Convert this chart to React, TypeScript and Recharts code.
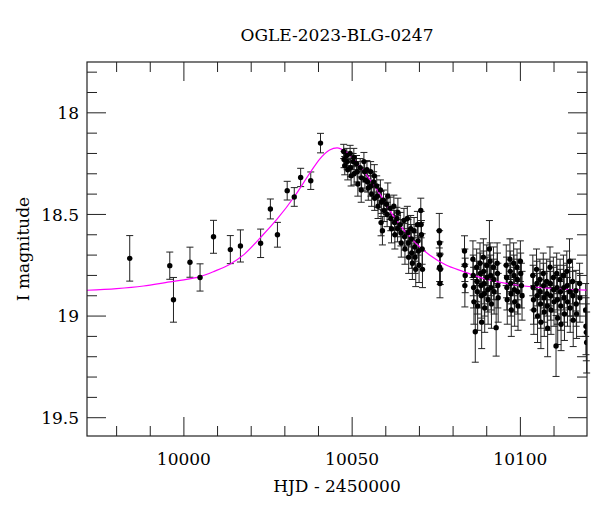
import React from "react";
import { ComposedChart, Scatter, Line, XAxis, YAxis, ErrorBar } from "recharts";

// OGLE-2023-BLG-0247 light curve: photometry with error bars + magenta model.
// Plot frame (px) and fonts.
const LEFT = 87;
const RIGHT = 587;
const TOP = 62;
const BOTTOM = 436;
const FONT = '"DejaVu Serif", "Liberation Serif", serif';
const FS = 17;

const X_DOMAIN: [number, number] = [9971.2, 10119.8];
const Y_DOMAIN: [number, number] = [17.75, 19.59];

const xTicks = [9980, 9990, 10000, 10010, 10020, 10030, 10040, 10050, 10060, 10070, 10080, 10090, 10100, 10110];
const xLabels = [10000, 10050, 10100];
const yTicks = [17.8, 17.9, 18, 18.1, 18.2, 18.3, 18.4, 18.5, 18.6, 18.7, 18.8, 18.9, 19, 19.1, 19.2, 19.3, 19.4, 19.5];
const yLabels = [18, 18.5, 19, 19.5];

// [HJD - 2450000, I mag, error]
const risePoints: [number, number, number][] = [
  [9983.9, 18.716, 0.112], [9995.8, 18.752, 0.067], [9996.9, 18.92, 0.11],
  [10001.8, 18.735, 0.074], [10004.8, 18.81, 0.067], [10008.8, 18.61, 0.081],
  [10013.8, 18.673, 0.069], [10016.8, 18.655, 0.079], [10022.8, 18.642, 0.07],
  [10025.7, 18.473, 0.049], [10027.8, 18.6, 0.061], [10030.7, 18.383, 0.046],
  [10032.8, 18.414, 0.046], [10034.7, 18.318, 0.045], [10037.7, 18.334, 0.043],
  [10040.6, 18.149, 0.048],
];

const declinePoints: [number, number, number][] = [
  [10047.5, 18.19, 0.035], [10047.6, 18.23, 0.04], [10047.8, 18.26, 0.045],
  [10048.4, 18.21, 0.035], [10048.5, 18.24, 0.04], [10048.7, 18.28, 0.05],
  [10049.4, 18.2, 0.04], [10049.5, 18.27, 0.045], [10049.7, 18.31, 0.05],
  [10050.3, 18.24, 0.04], [10050.5, 18.22, 0.045], [10050.6, 18.3, 0.055],
  [10051.3, 18.25, 0.04], [10051.5, 18.29, 0.05], [10051.7, 18.35, 0.06],
  [10052.4, 18.27, 0.045], [10052.7, 18.38, 0.06], [10052.8, 18.32, 0.05],
  [10053.5, 18.24, 0.045], [10053.7, 18.29, 0.05], [10053.8, 18.33, 0.055],
  [10054.4, 18.28, 0.045], [10054.6, 18.34, 0.05], [10054.8, 18.37, 0.06],
  [10055.5, 18.29, 0.05], [10055.6, 18.36, 0.05], [10055.8, 18.4, 0.06],
  [10056.4, 18.34, 0.05], [10056.6, 18.31, 0.055], [10056.7, 18.42, 0.06],
  [10057.3, 18.36, 0.05], [10057.5, 18.41, 0.055], [10057.7, 18.46, 0.06],
  [10058.4, 18.38, 0.05], [10058.6, 18.54, 0.065], [10058.7, 18.44, 0.055],
  [10059.0, 18.58, 0.07], [10059.3, 18.43, 0.05], [10059.5, 18.48, 0.055],
  [10060.2, 18.45, 0.05], [10060.4, 18.5, 0.06], [10060.6, 18.41, 0.065],
  [10061.3, 18.47, 0.055], [10061.5, 18.52, 0.06], [10061.7, 18.57, 0.07],
  [10062.4, 18.46, 0.055], [10062.6, 18.54, 0.06], [10062.7, 18.6, 0.07],
  [10063.3, 18.52, 0.055], [10063.5, 18.57, 0.065], [10063.6, 18.49, 0.07],
  [10064.3, 18.55, 0.06], [10064.5, 18.59, 0.065], [10064.6, 18.64, 0.07],
  [10065.4, 18.53, 0.06], [10065.6, 18.61, 0.065], [10065.7, 18.67, 0.075],
  [10066.4, 18.52, 0.06], [10066.6, 18.59, 0.065], [10066.7, 18.64, 0.07], [10066.8, 18.71, 0.08],
  [10067.4, 18.57, 0.065], [10067.6, 18.62, 0.07], [10067.7, 18.69, 0.075], [10067.9, 18.74, 0.08],
  [10068.4, 18.58, 0.065], [10068.6, 18.66, 0.07], [10068.7, 18.71, 0.08], [10068.9, 18.77, 0.085],
  [10069.4, 18.55, 0.065], [10069.6, 18.63, 0.07], [10069.7, 18.68, 0.075], [10069.9, 18.75, 0.085],
  [10070.4, 18.48, 0.06], [10070.5, 18.55, 0.065], [10070.6, 18.6, 0.07], [10070.8, 18.67, 0.075],
  [10070.9, 18.77, 0.09],
];

const tailPoints: [number, number, number][] = [
  [10075.9, 18.58, 0.085], [10076.0, 18.64, 0.06], [10076.1, 18.7, 0.065],
  [10076.0, 18.76, 0.07], [10076.2, 18.77, 0.075], [10076.1, 18.84, 0.07],
  [10083.4, 18.68, 0.075], [10083.5, 18.75, 0.08], [10083.6, 18.8, 0.085], [10083.5, 18.85, 0.105],
  [10085.9, 18.72, 0.09], [10086.0, 18.8, 0.1], [10086.1, 18.86, 0.1], [10086.2, 18.93, 0.11], [10086.6, 19.077, 0.15],
  [10087.0, 18.76, 0.09], [10087.1, 18.83, 0.1], [10087.2, 18.88, 0.11], [10087.3, 18.95, 0.12],
  [10088.0, 18.74, 0.1], [10088.1, 18.79, 0.1], [10088.3, 18.85, 0.11], [10088.4, 18.9, 0.11], [10088.5, 19.03, 0.13],
  [10089.0, 18.71, 0.09], [10089.1, 18.78, 0.1], [10089.2, 18.84, 0.1], [10089.3, 18.89, 0.11], [10089.4, 18.96, 0.12],
  [10090.0, 18.75, 0.1], [10090.1, 18.81, 0.1], [10090.3, 18.87, 0.11], [10090.4, 18.92, 0.12], [10090.8, 18.67, 0.14],
  [10091.0, 18.73, 0.09], [10091.2, 18.8, 0.1], [10091.3, 18.86, 0.11], [10091.4, 18.94, 0.12],
  [10092.0, 18.76, 0.1], [10092.1, 18.82, 0.1], [10092.2, 18.88, 0.11], [10092.8, 19.057, 0.14],
  [10093.1, 18.74, 0.1], [10093.2, 18.79, 0.1], [10093.3, 18.85, 0.11], [10093.4, 18.91, 0.12],
  [10095.8, 18.75, 0.1], [10095.9, 18.81, 0.1], [10096.0, 18.86, 0.11], [10096.1, 18.92, 0.12],
  [10096.9, 18.72, 0.1], [10097.0, 18.78, 0.1], [10097.1, 18.84, 0.1], [10097.2, 18.89, 0.11], [10097.3, 18.97, 0.13],
  [10098.0, 18.74, 0.1], [10098.1, 18.8, 0.1], [10098.2, 18.87, 0.11], [10098.3, 18.93, 0.12],
  [10099.0, 18.76, 0.09], [10099.1, 18.82, 0.1], [10099.2, 18.88, 0.11], [10099.3, 18.95, 0.12],
  [10100.0, 18.73, 0.1], [10100.1, 18.79, 0.1], [10100.3, 18.85, 0.11], [10100.5, 18.9, 0.12],
];

const latePoints: [number, number, number][] = [
  [10103.7, 18.8, 0.1], [10103.8, 18.86, 0.11], [10103.9, 18.92, 0.12], [10104.0, 18.97, 0.12],
  [10104.8, 18.77, 0.1], [10104.9, 18.84, 0.11], [10105.0, 18.9, 0.11], [10105.1, 19.0, 0.13],
  [10105.8, 18.82, 0.1], [10105.9, 18.88, 0.11], [10106.0, 18.94, 0.12], [10106.1, 19.03, 0.13],
  [10106.8, 18.79, 0.1], [10106.9, 18.85, 0.11], [10107.0, 18.91, 0.12], [10107.1, 18.98, 0.12],
  [10107.8, 18.83, 0.11], [10107.9, 18.89, 0.11], [10108.0, 18.95, 0.12], [10108.1, 19.06, 0.14],
  [10108.8, 18.76, 0.1], [10108.9, 18.84, 0.11], [10109.0, 18.9, 0.12], [10109.1, 18.97, 0.12],
  [10109.8, 18.81, 0.1], [10109.9, 18.87, 0.11], [10110.0, 18.93, 0.12], [10110.6, 19.147, 0.15],
  [10110.8, 18.79, 0.1], [10110.9, 18.86, 0.11], [10111.0, 18.92, 0.12], [10111.1, 19.01, 0.13],
  [10111.8, 18.82, 0.1], [10111.9, 18.88, 0.11], [10112.0, 18.95, 0.12], [10112.1, 19.04, 0.13],
  [10112.8, 18.8, 0.1], [10112.9, 18.86, 0.11], [10113.0, 18.91, 0.12], [10113.1, 18.99, 0.13],
  [10113.8, 18.78, 0.1], [10113.9, 18.85, 0.11], [10114.0, 18.93, 0.12],
  [10114.6, 18.73, 0.11], [10114.7, 18.88, 0.12], [10114.8, 18.96, 0.12],
  [10115.5, 18.83, 0.11], [10115.6, 18.9, 0.12], [10115.7, 19.02, 0.13],
  [10116.5, 18.875, 0.1], [10116.6, 18.94, 0.11], [10116.7, 18.99, 0.12],
  [10117.6, 18.84, 0.1], [10117.7, 18.91, 0.12],
  [10119.4, 18.97, 0.13], [10119.5, 19.05, 0.14], [10119.6, 19.08, 0.14], [10119.7, 19.13, 0.15],
];

// model curve
const modelHjd = [9971.2, 9980, 9988, 9995.8, 10000, 10004.8, 10009, 10013.7, 10018, 10022.8, 10027.8, 10032.8, 10037.7, 10040.3, 10043.3, 10045.5, 10048.2, 10053.2, 10058.1, 10063.1, 10068.0, 10073.0, 10077.9, 10082.9, 10088.8, 10098.7, 10108.6, 10119.8];
const modelMag = [18.873, 18.865, 18.852, 18.832, 18.822, 18.806, 18.78, 18.745, 18.695, 18.613, 18.521, 18.413, 18.29, 18.229, 18.183, 18.172, 18.192, 18.282, 18.396, 18.528, 18.626, 18.7, 18.749, 18.78, 18.814, 18.847, 18.863, 18.872];

const photometry = [...risePoints, ...declinePoints, ...tailPoints, ...latePoints].map(([x, y, err]) => ({ x, y, err }));
const model = modelHjd.map((x, i) => ({ x, y: modelMag[i] }));

function XTick({ x = 0, payload }: any) {
  const v = payload?.value;
  const major = xLabels.includes(v);
  const len = major ? 19 : 10;
  return (
    <g>
      <line x1={x} x2={x} y1={BOTTOM} y2={BOTTOM - len} stroke="#222" />
      <line x1={x} x2={x} y1={TOP} y2={TOP + len} stroke="#222" />
      {major && (
        <text x={x} y={465} textAnchor="middle" fontFamily={FONT} fontSize={FS} fill="#000">
          {v}
        </text>
      )}
    </g>
  );
}

function YTick({ y = 0, payload }: any) {
  const v = payload?.value;
  const major = yLabels.some((l) => Math.abs(l - v) < 1e-6);
  const len = major ? 19 : 10;
  return (
    <g>
      <line x1={LEFT} x2={LEFT + len} y1={y} y2={y} stroke="#222" />
      <line x1={RIGHT} x2={RIGHT - len} y1={y} y2={y} stroke="#222" />
      {major && (
        <text x={79} y={y + 6.3} textAnchor="end" fontFamily={FONT} fontSize={FS} fill="#000">
          {String(v)}
        </text>
      )}
    </g>
  );
}

const Dot = (props: any) => <circle cx={props.cx} cy={props.cy} r={2.7} fill="#000" />;

export default function App() {
  return (
    <div style={{ position: "absolute", left: 0, top: 0, width: 600, height: 512, background: "#fff" }}>
      <ComposedChart width={600} height={512} margin={{ top: TOP, right: 600 - RIGHT, bottom: 0, left: 0 }}>
        <XAxis
          type="number"
          dataKey="x"
          domain={X_DOMAIN}
          allowDataOverflow
          ticks={xTicks}
          interval={0}
          height={512 - BOTTOM}
          tickSize={0}
          tickMargin={0}
          tickLine={false}
          axisLine={false}
          tick={<XTick />}
        />
        <YAxis
          type="number"
          dataKey="y"
          domain={Y_DOMAIN}
          reversed
          allowDataOverflow
          ticks={yTicks}
          interval={0}
          width={LEFT}
          tickSize={0}
          tickMargin={0}
          tickLine={false}
          axisLine={false}
          tick={<YTick />}
        />
        <Scatter data={photometry} dataKey="y" shape={Dot} isAnimationActive={false}>
          <ErrorBar dataKey="err" direction="y" width={3.5} stroke="#222" strokeWidth={1} isAnimationActive={false} />
        </Scatter>
        <Line
          data={model}
          dataKey="y"
          type="monotone"
          stroke="#ff00ff"
          strokeWidth={1.2}
          dot={false}
          activeDot={false}
          isAnimationActive={false}
        />
      </ComposedChart>
      <svg width={600} height={512} style={{ position: "absolute", left: 0, top: 0, pointerEvents: "none" }}>
        <rect x={LEFT} y={TOP} width={RIGHT - LEFT} height={BOTTOM - TOP} fill="none" stroke="#222" strokeWidth={1.2} />
        <text x={(LEFT + RIGHT) / 2} y={41} textAnchor="middle" fontFamily={FONT} fontSize={FS} fill="#000">
          OGLE-2023-BLG-0247
        </text>
        <text x={(LEFT + RIGHT) / 2} y={492} textAnchor="middle" fontFamily={FONT} fontSize={FS} fill="#000">
          HJD - 2450000
        </text>
        <text
          x={29}
          y={(TOP + BOTTOM) / 2}
          transform={`rotate(-90 29 ${(TOP + BOTTOM) / 2})`}
          textAnchor="middle"
          fontFamily={FONT}
          fontSize={FS}
          fill="#000"
        >
          I magnitude
        </text>
      </svg>
    </div>
  );
}
